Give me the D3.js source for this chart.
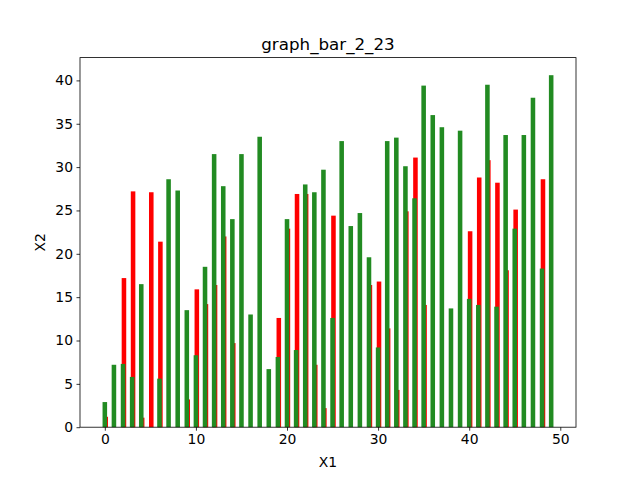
<!DOCTYPE html>
<html><head><meta charset="utf-8">
<script src="https://cdn.jsdelivr.net/npm/d3@7"></script>
<style>body{margin:0;background:#fff;} text{font-family:"DejaVu Sans",sans-serif;}</style>
</head><body>
<svg id="c" width="640" height="480"></svg>
<script>
const categories = d3.range(0, 50);
const redValues = [1.2,0,17.2,27.2,1.1,27.1,21.4,0,0,3.2,15.9,14.2,16.4,22.0,9.7,0,0,0,0,12.6,22.9,26.9,26.9,7.2,2.2,24.4,0,0,0,16.4,16.8,11.4,4.3,24.9,31.1,14.1,0,0,0,0,22.6,28.8,30.8,28.2,18.1,25.1,0,0,28.6,0];
const greenValues = [2.9,7.2,7.3,5.8,16.5,0,5.6,28.6,27.3,13.5,8.3,18.5,31.5,27.8,24.0,31.5,13.0,33.5,6.7,8.1,24.0,8.9,28.0,27.1,29.7,12.6,33.0,23.2,24.7,19.6,9.2,33.0,33.4,30.1,26.4,39.4,36.0,34.6,13.7,34.2,14.8,14.1,39.5,13.9,33.7,22.9,33.7,38.0,18.3,40.6];
const yTicks = [0,5,10,15,20,25,30,35,40];
const xTicks = [0,10,20,30,40,50];

const svg = d3.select("#c");
const L = 80, R = 576, T = 57.6, B = 427.2;
const barW = 0.5, redOff = 0.1;
const x = d3.scaleLinear().domain([-2.725, 51.725]).range([L, R]);
const yMax = d3.max(greenValues.concat(redValues)) * 1.05;
const y = d3.scaleLinear().domain([0, yMax]).range([B, T]);

svg.append("g").selectAll("rect").data(categories).join("rect")
  .attr("x", d => x(d + redOff - barW/2))
  .attr("width", d => x(barW) - x(0))
  .attr("y", (d,i) => y(redValues[i]))
  .attr("height", (d,i) => B - y(redValues[i]))
  .attr("fill", "#ff0000");

svg.append("g").selectAll("rect").data(categories).join("rect")
  .attr("x", d => x(d - barW/2))
  .attr("width", d => x(barW) - x(0))
  .attr("y", (d,i) => y(greenValues[i]))
  .attr("height", (d,i) => B - y(greenValues[i]))
  .attr("fill", "#228b22");

const xa = svg.append("g").attr("transform", `translate(0,${B})`)
  .call(d3.axisBottom(x).tickValues(xTicks).tickSize(3.5).tickPadding(3.5).tickFormat(d3.format("d")));
const ya = svg.append("g").attr("transform", `translate(${L},0)`)
  .call(d3.axisLeft(y).tickValues(yTicks).tickSize(3.5).tickPadding(3.5).tickFormat(d3.format("d")));
[xa, ya].forEach(a => {
  a.selectAll("text").attr("font-size", "13.9px").attr("fill", "#000").attr("font-family", "DejaVu Sans");
  a.selectAll("line").attr("stroke", "#000").attr("stroke-width", 0.8);
  a.select(".domain").remove();
});
svg.append("rect").attr("x", L).attr("y", T).attr("width", R - L).attr("height", B - T)
  .attr("fill", "none").attr("stroke", "#000").attr("stroke-width", 0.8);

svg.append("text").attr("x", (L + R) / 2).attr("y", 50).attr("text-anchor", "middle")
  .attr("font-size", "16.7px").text("graph_bar_2_23");
svg.append("text").attr("x", (L + R) / 2).attr("y", 467).attr("text-anchor", "middle")
  .attr("font-size", "13.9px").text("X1");
svg.append("text").attr("transform", `translate(45,${(T + B) / 2}) rotate(-90)`).attr("text-anchor", "middle")
  .attr("font-size", "13.9px").text("X2");
</script>
</body></html>
